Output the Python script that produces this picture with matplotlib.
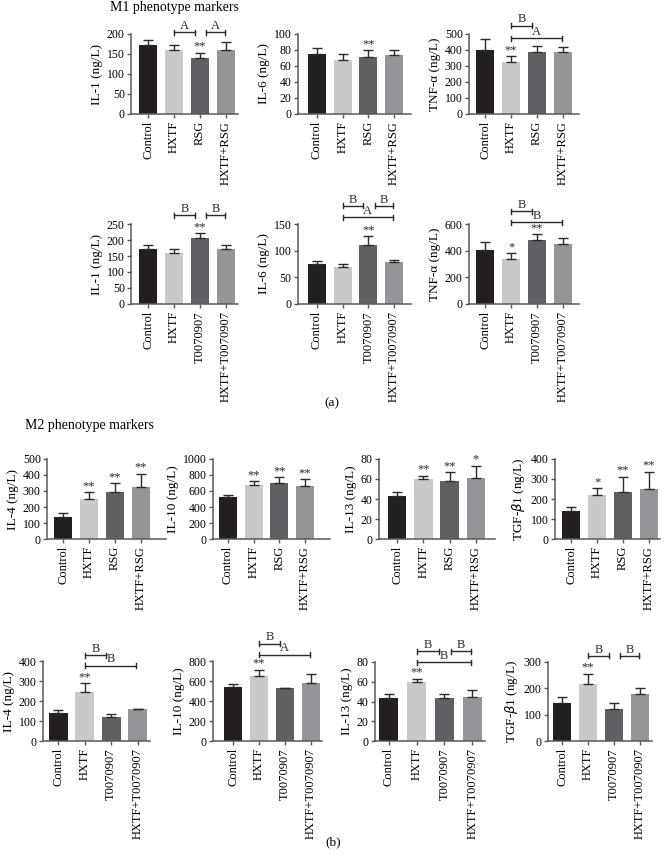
import matplotlib
matplotlib.use('Agg')
import matplotlib.pyplot as plt
import numpy as np

W, H = 667, 857
plt.rcParams['font.family'] = ['Liberation Serif', 'DejaVu Serif']

# ---------------- data ----------------
groups_rsg = ['Control', 'HXTF', 'RSG', 'HXTF+RSG']
groups_t = ['Control', 'HXTF', 'T0070907', 'HXTF+T0070907']
bar_colors = ['#231f20', '#c8c9cb', '#5f6063', '#939598']

# (a) M1 markers, RSG row
il1_rsg = [172, 160, 140, 160]
il1_rsg_err = [13, 12, 13, 20]
il1_rsg_sig = ['', '', '**', '']
il6_rsg = [75, 68, 71, 74]
il6_rsg_err = [7, 7, 8.5, 6]
il6_rsg_sig = ['', '', '**', '']
tnf_rsg = [402, 325, 385, 385]
tnf_rsg_err = [65, 35, 37, 32]
tnf_rsg_sig = ['', '**', '', '']

# (a) M1 markers, T0070907 row
il1_t = [172, 160, 207, 173]
il1_t_err = [13, 12, 14, 12]
il1_t_sig = ['', '', '**', '']
il6_t = [75, 69, 110, 78]
il6_t_err = [6, 6, 17, 4]
il6_t_sig = ['', '', '**', '']
tnf_t = [403, 340, 478, 448]
tnf_t_err = [62, 40, 45, 50]
tnf_t_sig = ['', '*', '**', '']

# (b) M2 markers, RSG row
il4_rsg = [140, 247, 295, 322]
il4_rsg_err = [21, 44, 52, 86]
il4_rsg_sig = ['', '**', '**', '**']
il10_rsg = [523, 670, 699, 661]
il10_rsg_err = [33, 50, 71, 84]
il10_rsg_sig = ['', '**', '**', '**']
il13_rsg = [43.5, 59.6, 58, 60.6]
il13_rsg_err = [3.5, 3.4, 8.6, 12.4]
il13_rsg_sig = ['', '**', '**', '*']
tgf_rsg = [142, 218, 236, 251]
tgf_rsg_err = [19, 35, 75, 85]
tgf_rsg_sig = ['', '*', '**', '**']

# (b) M2 markers, T0070907 row
il4_t = [141, 244, 122, 161]
il4_t_err = [16, 44, 15, 0]
il4_t_sig = ['', '**', '', '']
il10_t = [538, 655, 528, 581]
il10_t_err = [33, 57, 0, 88]
il10_t_sig = ['', '**', '', '']
il13_t = [43.9, 59.7, 44, 44.6]
il13_t_err = [3.4, 3.3, 4, 7.4]
il13_t_sig = ['', '**', '', '']
tgf_t = [146, 218, 122, 177]
tgf_t_err = [21, 38, 21, 25]
tgf_t_sig = ['', '**', '', '']

# brackets: (group i, group j, height in data units, letter)
il1_rsg_br = [(1, 2, 204, 'A'), (2, 3, 204, 'A')]
tnf_rsg_br = [(1, 2, 552, 'B'), (1, 3, 473, 'A')]
il1_t_br = [(1, 2, 278, 'B'), (2, 3, 278, 'B')]
il6_t_br = [(1, 2, 184, 'B'), (2, 3, 184, 'B'), (1, 3, 163, 'A')]
tnf_t_br = [(1, 2, 697, 'B'), (1, 3, 615, 'B')]
il4_t_br = [(1, 2, 428, 'B'), (1, 3, 377, 'B')]
il10_t_br = [(1, 2, 975, 'B'), (1, 3, 864, 'A')]
il13_t_br = [(1, 2, 90.8, 'B'), (2, 3, 90.8, 'B'), (1, 3, 79.7, 'B')]
tgf_t_br = [(1, 2, 323, 'B'), (2, 3, 323, 'B')]

# ---------------- layout ----------------
fig = plt.figure(figsize=(W / 100, H / 100), dpi=100)
FS_TICK = 8.5
FS_LAB = 9.5
FS_XT = 9
FS_ANN = 9
AXC = '#58595b'
INK = '#2b2b2b'


def panel(px, vals, errs, sigs, groups, ylabel, ymax, ystep, brackets=()):
    left, top, right, bottom, first_l, last_r = px
    ax = fig.add_axes([left / W, 1 - bottom / H, (right - left) / W, (bottom - top) / H])
    bw = 0.7
    spacing_px = (last_r - first_l) / (3 + bw)
    x = np.arange(len(vals))
    x0 = -bw / 2 - (first_l - left) / spacing_px
    x1 = x0 + (right - left) / spacing_px
    ax.bar(x, vals, width=bw, color=bar_colors, zorder=2)
    up = np.array(errs, dtype=float)
    ax.errorbar(x, vals, yerr=[np.zeros_like(up), up], fmt='none', ecolor=INK,
                elinewidth=1.0, capsize=3.8, capthick=1.0, zorder=3)
    ax.set_xlim(x0, x1)
    ax.set_ylim(0, ymax)
    ax.set_yticks(np.arange(0, ymax + ystep / 2, ystep))
    ax.set_xticks(x)
    ax.set_xticklabels(groups, rotation=90, fontsize=FS_XT)
    ax.tick_params(axis='y', labelsize=FS_TICK, length=3, width=1, color=AXC, pad=1.5)
    ax.tick_params(axis='x', length=3, width=1, color=AXC, pad=2)
    for s in ['top', 'right']:
        ax.spines[s].set_visible(False)
    for s in ['left', 'bottom']:
        ax.spines[s].set_color(AXC)
        ax.spines[s].set_linewidth(1.1)
    ax.set_ylabel(ylabel, fontsize=FS_LAB, labelpad=3)
    pt = ymax / (bottom - top)  # data units per pixel
    for xi, v, e, s in zip(x, vals, errs, sigs):
        if s:
            ax.text(xi, v + e + 0.3 * pt, s, ha='center', va='bottom', fontsize=FS_ANN,
                    color=INK, linespacing=1)
    for i, j, yb, lab in brackets:
        xa = i + (0.25 if i == 2 else 0.0)
        xb = j - (0.2 if (j - i == 1 and j == 2) else 0.05)
        tick = 2.5 * pt
        ax.plot([xa, xb], [yb, yb], color=INK, lw=1.0, clip_on=False)
        ax.plot([xa, xa], [yb - tick, yb + tick], color=INK, lw=1.0, clip_on=False)
        ax.plot([xb, xb], [yb - tick, yb + tick], color=INK, lw=1.0, clip_on=False)
        ax.text((xa + xb) / 2, yb + 0.2 * pt, lab, ha='center', va='bottom', fontsize=FS_ANN,
                color=INK)
    return ax


# (left, top, right, bottom, first bar left, last bar right) in pixels
panel((131, 34, 238, 114, 139, 235), il1_rsg, il1_rsg_err, il1_rsg_sig, groups_rsg,
      'IL-1 (ng/L)', 200, 50, il1_rsg_br)
panel((298, 34, 411, 114, 308, 403), il6_rsg, il6_rsg_err, il6_rsg_sig, groups_rsg,
      'IL-6 (ng/L)', 100, 20)
panel((469, 34, 579, 114, 476, 572), tnf_rsg, tnf_rsg_err, tnf_rsg_sig, groups_rsg,
      'TNF-α (ng/L)', 500, 100, tnf_rsg_br)

panel((131, 224, 238, 304, 139, 235), il1_t, il1_t_err, il1_t_sig, groups_t,
      'IL-1 (ng/L)', 250, 50, il1_t_br)
panel((298, 224, 411, 304, 308, 403), il6_t, il6_t_err, il6_t_sig, groups_t,
      'IL-6 (ng/L)', 150, 50, il6_t_br)
panel((469, 224, 579, 304, 476, 572), tnf_t, tnf_t_err, tnf_t_sig, groups_t,
      'TNF-α (ng/L)', 600, 200, tnf_t_br)

panel((47, 459, 166, 539, 54, 150), il4_rsg, il4_rsg_err, il4_rsg_sig, groups_rsg,
      'IL-4 (ng/L)', 500, 100)
panel((213, 459, 330, 539, 219, 314), il10_rsg, il10_rsg_err, il10_rsg_sig, groups_rsg,
      'IL-10 (ng/L)', 1000, 200)
panel((379, 459, 495, 539, 388, 485), il13_rsg, il13_rsg_err, il13_rsg_sig, groups_rsg,
      'IL-13 (ng/L)', 80, 20)
panel((555, 459, 660, 539, 562, 658), tgf_rsg, tgf_rsg_err, tgf_rsg_sig, groups_rsg,
      'TGF-$\\beta$1 (ng/L)', 400, 100)

panel((43, 661, 150, 741, 49, 147), il4_t, il4_t_err, il4_t_sig, groups_t,
      'IL-4 (ng/L)', 400, 100, il4_t_br)
panel((213, 661, 322, 741, 224, 320), il10_t, il10_t_err, il10_t_sig, groups_t,
      'IL-10 (ng/L)', 800, 200, il10_t_br)
panel((375, 662, 485, 741, 379, 482), il13_t, il13_t_err, il13_t_sig, groups_t,
      'IL-13 (ng/L)', 80, 20, il13_t_br)
panel((548, 662, 652, 741, 553, 649), tgf_t, tgf_t_err, tgf_t_sig, groups_t,
      'TGF-$\\beta$1 (ng/L)', 300, 100, tgf_t_br)

fig.text(110 / W, 1 - 7 / H, 'M1 phenotype markers', ha='left', va='center', fontsize=10)
fig.text(25 / W, 1 - 425 / H, 'M2 phenotype markers', ha='left', va='center', fontsize=10)
fig.text(332 / W, 1 - 403 / H, '(a)', ha='center', va='center', fontsize=9.5)
fig.text(333 / W, 1 - 842 / H, '(b)', ha='center', va='center', fontsize=9.5)

fig.savefig('out.png', dpi=100, facecolor='white')
